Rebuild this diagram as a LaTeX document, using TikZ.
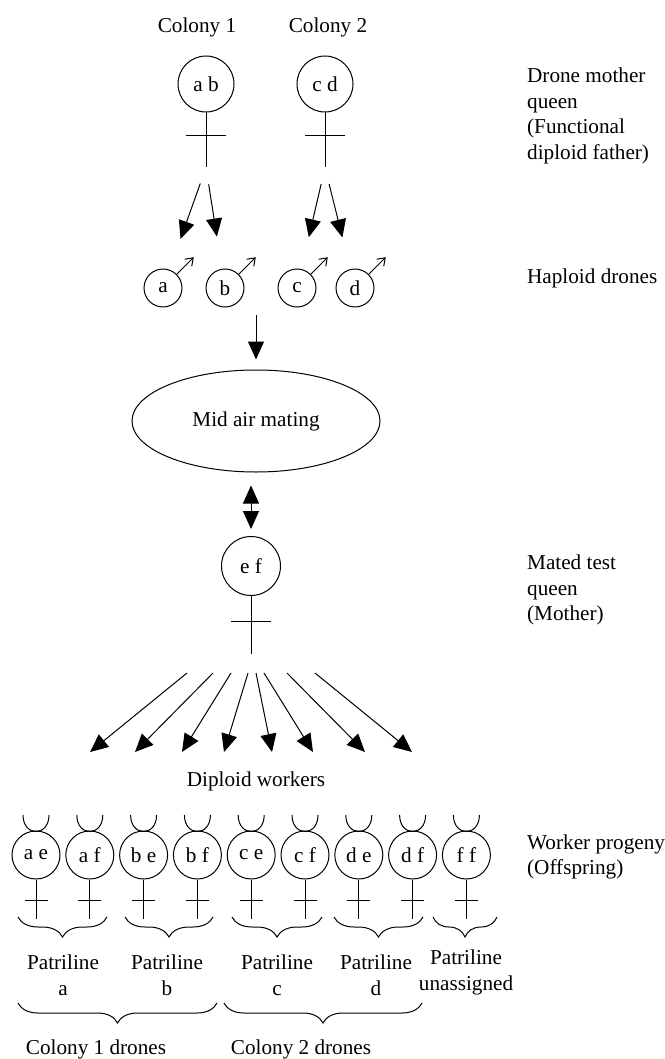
\documentclass[tikz,border=0pt]{standalone}
\usepackage{fontspec}
\setmainfont{Liberation Serif}
\usetikzlibrary{arrows.meta,shapes.geometric,decorations.pathreplacing,positioning}

\begin{document}
\begin{tikzpicture}[
    x=0.5pt, y=-0.5pt, line width=0.5pt,
    font=\fontsize{10.6}{12.7}\selectfont,
    queen/.style={circle, draw, inner sep=0pt, minimum size=28pt},
    drone/.style={circle, draw, inner sep=0pt, minimum size=19pt},
    worker/.style={circle, draw, inner sep=0pt, minimum size=24pt},
    note/.style={anchor=west, align=left},
    patri/.style={align=center, font=\fontsize{10.6}{13}\selectfont},
    line/.style={draw, -{Triangle[length=9pt,width=8pt]}},
    dline/.style={draw, {Triangle[length=9pt,width=8pt]}-{Triangle[length=9pt,width=8pt]}},
    male/.style={draw, -{Straight Barb[length=3.5pt,width=5pt]}},
    pbrace/.style={decorate, decoration={brace, mirror, amplitude=10pt}}
  ]
    \useasboundingbox (0,0) rectangle (664,1059);

    \node (col1) at (197,27) {Colony 1};
    \node (col2) at (328,27) {Colony 2};
    \node [queen] (qab) at (206,84) {a b};
    \node [queen] (qcd) at (325,84) {c d};
    \foreach \q in {qab,qcd} {
      \draw (\q.south) -- ++(0,55) coordinate (\q-foot);
      \draw (\q.south) ++(-20,23) -- ++(40,0);
    }

    \node [drone] (da) at (163,288) {a};
    \node [drone] (db) at (225,288) {b};
    \node [drone] (dc) at (297,288) {c};
    \node [drone] (dd) at (355,288) {d};
    \foreach \d in {da,db,dc,dd}
      \path [male] (\d.45) -- ++(17,-17);

    \path [line, shorten <=8.5pt, shorten >=16.3pt] (qab-foot) -- (da);
    \path [line, shorten <=8.5pt, shorten >=16.3pt] (qab-foot) -- (db);
    \path [line, shorten <=8.5pt, shorten >=16.3pt] (qcd-foot) -- (dc);
    \path [line, shorten <=8.5pt, shorten >=16.3pt] (qcd-foot) -- (dd);

    \node [ellipse, draw, minimum width=124pt, minimum height=51pt] (mating) at (256,421) {Mid air mating};
    \coordinate (dronesout) at (256,315);
    \path [line, shorten >=5pt] (dronesout) -- (dronesout |- mating.north);

    \node [queen, minimum size=29.5pt] (qef) at (251,566) {e f};
    \draw (qef.south) -- ++(0,58) coordinate (qef-foot);
    \draw (qef.south) ++(-20,25) -- ++(40,0);
    \path [dline, shorten <=3.5pt, shorten >=6.5pt] (qef.north) -- (qef.north |- mating.south);

    \foreach \s/\e [count=\i] in {187/90, 213/135, 231/182, 248/224, 256/272, 264/313, 287/365, 315/412} {
      \coordinate (fs\i) at (\s,673);
      \coordinate (fe\i) at (\e,752);
      \path [line] (fs\i) -- (fe\i);
    }
    \node (diploid) at (256,781) {Diploid workers};

    \foreach \t [count=\i from 0] in {a e, a f, b e, b f, c e, c f, d e, d f, f f} {
      \pgfmathsetmacro\wx{36+53.8*\i}
      \node [worker] (w\i) at (\wx,855) {\t};
      \draw ({\wx-13},815) .. controls ({\wx-13},837) and ({\wx+13},837) .. ({\wx+13},815);
      \draw (w\i.south) -- ++(0,39);
      \draw (w\i.south) ++(-11.5,21) -- ++(23,0);
    }

    \draw [pbrace] (18,917) -- (107,917);
    \draw [pbrace] (125,917) -- (213,917);
    \draw [pbrace] (232,917) -- (322,917);
    \draw [pbrace] (334,917) -- (423,917);
    \draw [pbrace] (433,917) -- (497,917);
    \node [patri] (pa) at (63,975) {Patriline\\a};
    \node [patri] (pb) at (167,975) {Patriline\\b};
    \node [patri] (pc) at (277,975) {Patriline\\c};
    \node [patri] (pd) at (376,975) {Patriline\\d};
    \node [patri] (pu) at (466,972) {Patriline\\unassigned};

    \draw [pbrace] (18,1003) -- (217,1003);
    \draw [pbrace] (224,1003) -- (422,1003);
    \node (c1d) at (96,1049) {Colony 1 drones};
    \node (c2d) at (301,1049) {Colony 2 drones};

    \node [note] (lbq) at (520,116) {Drone mother\\queen\\(Functional\\diploid father)};
    \node [note] (lbd) at (520,278) {Haploid drones};
    \node [note] (lbm) at (520,590) {Mated test\\queen\\(Mother)};
    \node [note] (lbw) at (520,857) {Worker progeny\\(Offspring)};
  \end{tikzpicture}
\end{document}
